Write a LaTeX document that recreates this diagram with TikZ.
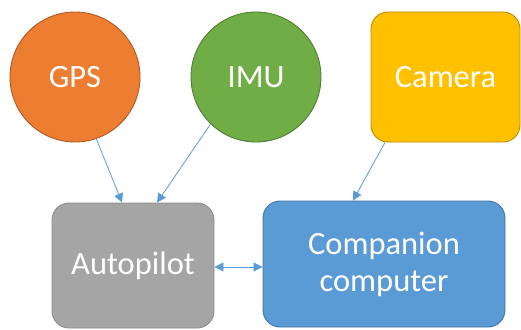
\documentclass[tikz,border=0pt]{standalone}
\usepackage{fontspec}
\setmainfont{Carlito}
\usetikzlibrary{arrows.meta,calc}
\definecolor{gpsfill}{HTML}{ED7D31}\definecolor{gpsline}{HTML}{AE5A21}
\definecolor{imufill}{HTML}{70AD47}\definecolor{imuline}{HTML}{507E32}
\definecolor{camfill}{HTML}{FFC000}\definecolor{camline}{HTML}{BC8C00}
\definecolor{apfill}{HTML}{A5A5A5}\definecolor{apline}{HTML}{8C8C8C}
\definecolor{ccfill}{HTML}{5B9BD5}\definecolor{ccline}{HTML}{41719C}
\definecolor{link}{HTML}{5B9BD5}
\tikzset{
  unit/.style={text=white, font=\fontsize{32.5}{37}\selectfont, line width=0.9pt, align=center, inner sep=0pt},
  sensor/.style={unit, circle, minimum size=130pt},
  block/.style={unit, rectangle, rounded corners=17pt},
  wire/.style={draw=link, line width=0.8pt, -{Triangle[width=9pt,length=9pt]}},
  wire2/.style={draw=link, line width=0.8pt, {Triangle[width=9pt,length=9pt]}-{Triangle[width=9pt,length=9pt]}}
}
\begin{document}
\begin{tikzpicture}[x=1pt,y=-1pt]
\useasboundingbox (0,0) rectangle (521,329);
\node[sensor, fill=gpsfill, draw=gpsline] (gps) at (75,77) {GPS};
\node[sensor, fill=imufill, draw=imuline] (imu) at (256,77) {IMU};
\node[block, fill=camfill, draw=camline, minimum width=149pt, minimum height=130pt] (cam) at (445.5,77) {Camera};
\node[block, fill=apfill, draw=apline, minimum width=162pt, minimum height=125pt] (ap) at (133,265.5) {Autopilot};
\node[block, fill=ccfill, draw=ccline, minimum width=242pt, minimum height=126pt] (cc) at (384,264) {Companion\\computer};
\draw[wire] (gps.-71) -- ($(ap.north)+(-11,0)$);
\draw[wire] (imu.-134) -- ($(ap.north)+(24,0)$);
\draw[wire] ($(cam.south)+(-60.5,0)$) -- ($(cc.north)+(-31,0)$);
\draw[wire2] ($(ap.east)+(0,1.5)$) -- ($(cc.west |- ap.east)+(0,1.5)$);
\end{tikzpicture}
\end{document}
